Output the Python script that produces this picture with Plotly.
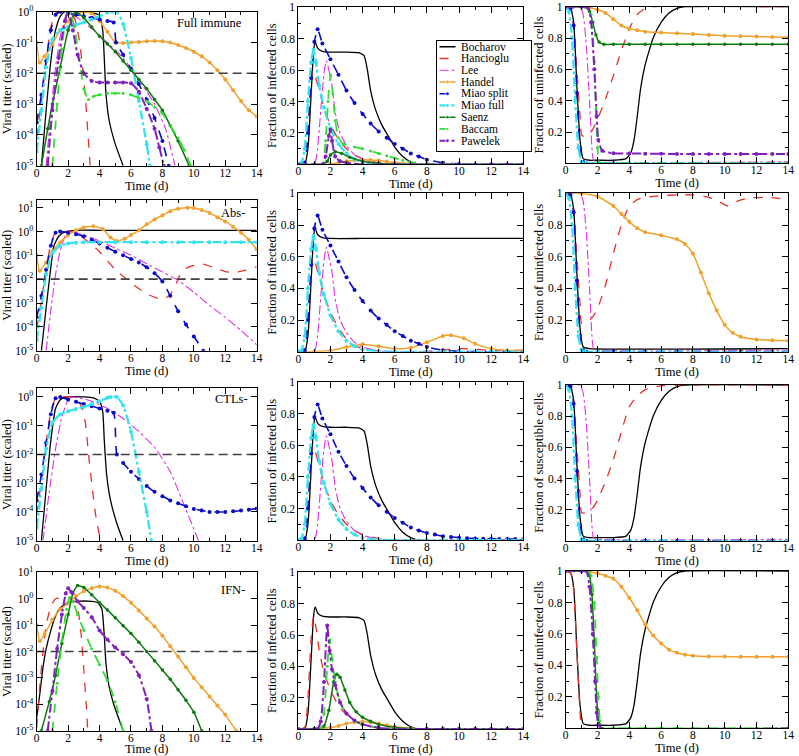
import plotly.graph_objects as go

FONT = "Liberation Serif"
SERIES = ["Bocharov", "Hancioglu", "Lee", "Handel", "Miao split",
          "Miao full", "Saenz", "Baccam", "Pawelek"]
ROW_LABELS = ["Full immune", "Abs-", "CTLs-", "IFN-"]
Y_TITLES = [
    ["Viral titer (scaled)", "Fraction of infected cells", "Fraction of uninfected cells"],
    ["Viral titer (scaled)", "Fraction of infected cells", "Fraction of uninfected cells"],
    ["Viral titer (scaled)", "Fraction of infected cells", "Fraction of susceptible cells"],
    ["Viral titer (scaled)", "Fraction of infected cells", "Fraction of uninfected cells"],
]
TIME_RANGE = [0, 14]
THRESHOLD_LOG10 = -2
LOG_RANGES = [[-5, 0], [-5, 1.32], [-5, 0.3], [-5, 1.0]]
TITER_TICKS_LOG10 = [-5, -4, -3, -2, -1, 0, 1]
FRACTION_TICKS = [0.2, 0.4, 0.6, 0.8, 1]
FRACTION_TICKTEXT = ["0.2", "0.4", "0.6", "0.8", "1"]

# ---------------- data: (time [d], value) ; titer values are log10 ----------------
boch_inf = [(0, 0), (0.4, 0), (0.6, 0.1), (0.8, 0.45), (0.95, 0.72), (1.05, 0.78), (1.2, 0.74),
            (1.5, 0.72), (2, 0.715), (3, 0.715), (3.8, 0.71), (4.1, 0.69), (4.3, 0.6), (4.5, 0.47),
            (4.8, 0.35), (5.2, 0.25), (5.6, 0.18), (6.0, 0.11), (6.5, 0.05), (7, 0.015), (7.5, 0), (14, 0)]
boch_unin = [(0, 1), (0.3, 0.99), (0.5, 0.9), (0.7, 0.5), (0.9, 0.15), (1.1, 0.03), (1.5, 0.02), (2, 0.02),
             (3, 0.02), (3.8, 0.03), (4.1, 0.07), (4.3, 0.15), (4.5, 0.3), (4.7, 0.47), (5.0, 0.63),
             (5.5, 0.8), (6, 0.9), (6.5, 0.96), (7, 0.99), (7.5, 1), (14, 1)]
hanc_inf = [(0, 0), (0.4, 0.01), (0.6, 0.2), (0.8, 0.5), (0.9, 0.6), (1.0, 0.58), (1.3, 0.47), (1.6, 0.36),
            (2, 0.25), (2.5, 0.16), (3, 0.1), (3.5, 0.06), (4, 0.035), (5, 0.01), (6, 0), (14, 0)]
lee_inf = [(0, 0), (1.0, 0), (1.2, 0.1), (1.4, 0.35), (1.6, 0.58), (1.75, 0.66), (1.9, 0.6), (2.1, 0.5),
           (2.3, 0.33), (2.6, 0.2), (3, 0.12), (3.5, 0.06), (4, 0.03), (5, 0.005), (6, 0), (14, 0)]
miaos_inf = [(0, 0), (0.4, 0.01), (0.6, 0.2), (0.8, 0.55), (1.0, 0.78), (1.2, 0.86), (1.5, 0.77), (2, 0.67),
             (2.5, 0.57), (3, 0.47), (3.5, 0.39), (4, 0.32), (4.5, 0.26), (5, 0.21), (5.5, 0.17), (6, 0.13),
             (6.5, 0.1), (7, 0.07), (7.5, 0.05), (8, 0.03), (9, 0.01), (10, 0.003), (11, 0), (12, 0),
             (13, 0), (14, 0)]
miaof_inf = [(0, 0), (0.2, 0.01), (0.4, 0.1), (0.6, 0.4), (0.8, 0.65), (0.95, 0.73), (1.1, 0.65), (1.3, 0.5),
             (1.6, 0.36), (2, 0.23), (2.5, 0.13), (3, 0.07), (3.5, 0.035), (4, 0.015), (5, 0.003), (6, 0),
             (7, 0), (8, 0), (9, 0), (10, 0), (11, 0), (12, 0), (13, 0), (14, 0)]
miaos_unin = [(0, 1), (0.3, 0.99), (0.5, 0.88), (0.7, 0.45), (0.9, 0.1), (1.1, 0.01), (1.3, 0), (2, 0),
              (3, 0), (4, 0), (5, 0), (6, 0), (7, 0), (8, 0), (9, 0), (10, 0), (11, 0), (12, 0), (13, 0), (14, 0)]
miaof_unin = [(0, 1), (0.2, 0.97), (0.4, 0.8), (0.6, 0.4), (0.8, 0.1), (1.0, 0.01), (1.2, 0), (2, 0),
              (4, 0), (6, 0), (8, 0), (10, 0), (12, 0), (14, 0)]
lee_unin = [(0, 1), (0.9, 1), (1.1, 0.95), (1.3, 0.75), (1.5, 0.4), (1.65, 0.1), (1.75, 0.02), (2, 0.01), (14, 0.01)]

full_titer = {
    "Bocharov": [(0.3, -5), (0.6, -3.2), (0.9, -1.6), (1.2, -0.6), (1.5, -0.15), (1.8, 0), (2.5, 0), (3.0, 0),
                 (3.5, -0.03), (4.0, -0.12), (4.2, -0.6), (4.3, -1.5), (4.4, -2.6), (4.6, -3.5), (5.0, -4.3), (5.5, -5)],
    "Hancioglu": [(0, -4.1), (0.3, -2.9), (0.6, -1.6), (0.9, -0.5), (1.2, -0.05), (1.6, 0), (2.0, -0.02),
                  (2.4, -0.2), (2.7, -0.9), (2.9, -1.7), (3.1, -2.8), (3.25, -3.9), (3.4, -5)],
    "Lee": [(0.6, -5), (0.9, -3.3), (1.2, -1.8), (1.5, -0.8), (1.8, -0.2), (2.1, 0), (2.6, -0.2), (3.5, -0.55),
            (4.5, -1.0), (5.5, -1.5), (6.5, -2.2), (7.5, -3.0), (8.2, -3.8), (8.8, -5)],
    "Handel": [(0, -1), (0.2, -1.65), (0.5, -1.45), (1, -1.05), (1.5, -0.6), (2, -0.3), (2.5, -0.1), (3, 0),
               (3.5, -0.05), (4, -0.3), (4.5, -0.65), (5, -1.0), (5.5, -1.02), (6, -1.0), (6.5, -0.98),
               (7, -0.96), (7.5, -0.95), (8, -0.96), (8.5, -1.0), (9, -1.08), (9.5, -1.18), (10, -1.3),
               (10.5, -1.45), (11, -1.65), (11.5, -1.9), (12, -2.2), (12.5, -2.55), (13, -2.9), (13.5, -3.2), (14, -3.4)],
    "Miao split": [(0, -3.6), (0.3, -2.7), (0.6, -1.6), (0.9, -0.6), (1.2, -0.1), (1.5, 0), (2, -0.05),
                   (2.5, -0.1), (3, -0.15), (3.5, -0.2), (4, -0.25), (4.5, -0.3), (4.9, -0.35), (5.05, -1.0),
                   (5.5, -1.4), (6, -1.85), (6.5, -2.35), (7, -2.85), (7.5, -3.45), (8, -4.2), (8.4, -5)],
    "Miao full": [(0, -4.55), (0.3, -3.2), (0.6, -1.8), (1, -0.9), (1.5, -0.6), (2, -0.5), (2.5, -0.42),
                  (3, -0.35), (3.5, -0.25), (4, -0.15), (4.5, -0.03), (4.8, 0), (5.1, 0), (5.5, -0.4),
                  (6, -1.5), (6.5, -2.9), (7, -4.3), (7.2, -5)],
    "Saenz": [(0.3, -5), (0.7, -3.8), (1.0, -3.0), (1.5, -1.8), (2, -0.6), (2.5, 0), (3, -0.2), (3.5, -0.5),
              (4, -0.8), (4.5, -1.05), (5, -1.3), (5.5, -1.6), (6, -1.9), (6.5, -2.2), (7, -2.5), (7.5, -2.85),
              (8, -3.2), (8.5, -3.7), (9, -4.2), (9.7, -5)],
    "Baccam": [(1.0, -5), (1.3, -3), (1.6, -1.2), (1.9, -0.1), (2.1, 0), (2.4, -0.5), (2.7, -1.5), (3.0, -2.5),
               (3.3, -2.85), (3.6, -2.75), (4, -2.7), (4.5, -2.65), (5, -2.65), (5.5, -2.65), (6, -2.7),
               (6.5, -2.8), (7, -2.9), (7.5, -3.1), (8, -3.3), (8.5, -3.7), (9, -4.1), (9.4, -4.5), (9.8, -5)],
    "Pawelek": [(0.7, -5), (1.0, -3.2), (1.4, -1.5), (1.8, -0.3), (2.0, 0), (2.3, -0.6), (2.6, -1.4), (3.0, -2.0),
                (3.5, -2.25), (4, -2.3), (4.5, -2.3), (5, -2.3), (5.5, -2.3), (6, -2.32), (6.5, -2.6),
                (7, -3.15), (7.5, -3.8), (7.8, -4.4), (8.1, -5)],
}
full_inf = {
    "Bocharov": boch_inf, "Hancioglu": hanc_inf, "Lee": lee_inf,
    "Handel": [(0, 0), (1, 0), (2, 0.003), (2.5, 0.01), (3, 0.02), (3.5, 0.027), (4, 0.03), (4.5, 0.028),
               (5, 0.024), (5.5, 0.018), (6, 0.012), (7, 0.005), (8, 0.002), (9, 0), (10, 0), (11, 0),
               (12, 0), (13, 0), (14, 0)],
    "Miao split": miaos_inf, "Miao full": miaof_inf,
    "Saenz": [(0, 0), (1, 0), (1.5, 0), (1.8, 0.02), (2.0, 0.06), (2.3, 0.08), (2.7, 0.07), (3.2, 0.045),
              (4, 0.02), (5, 0.007), (6, 0.002), (7, 0), (8, 0), (9, 0), (10, 0), (11, 0), (12, 0), (13, 0), (14, 0)],
    "Baccam": [(0, 0), (1, 0), (1.5, 0), (1.7, 0.15), (1.85, 0.4), (2.0, 0.57), (2.15, 0.45), (2.3, 0.28),
               (2.5, 0.17), (2.8, 0.13), (3.5, 0.11), (4, 0.1), (4.5, 0.085), (5, 0.07), (5.5, 0.055),
               (6, 0.04), (6.5, 0.027), (7, 0.015), (8, 0.005), (9, 0), (10, 0), (11, 0), (12, 0), (13, 0), (14, 0)],
    "Pawelek": [(0, 0), (1, 0), (1.5, 0), (1.7, 0.05), (1.9, 0.18), (2.0, 0.22), (2.1, 0.15), (2.3, 0.05),
                (2.6, 0.02), (3, 0.01), (4, 0), (5, 0), (6, 0), (7, 0), (8, 0), (9, 0), (10, 0), (11, 0),
                (12, 0), (13, 0), (14, 0)],
}
full_unin = {
    "Bocharov": boch_unin,
    "Hancioglu": [(0, 1), (0.3, 0.99), (0.5, 0.9), (0.7, 0.6), (0.9, 0.3), (1.0, 0.18), (1.2, 0.17), (1.6, 0.2),
                  (2, 0.28), (2.5, 0.41), (3, 0.56), (3.5, 0.72), (4, 0.86), (4.5, 0.95), (5, 0.99), (5.5, 1), (14, 1)],
    "Lee": lee_unin,
    "Handel": [(0, 1), (1, 1), (1.5, 0.995), (2, 0.98), (2.5, 0.96), (3, 0.92), (3.5, 0.88), (4, 0.86),
               (4.5, 0.85), (5, 0.84), (6, 0.835), (7, 0.83), (8, 0.825), (9, 0.82), (10, 0.815),
               (11, 0.812), (12, 0.81), (13, 0.807), (14, 0.805)],
    "Miao split": miaos_unin, "Miao full": miaof_unin,
    "Saenz": [(0, 1), (0.5, 1), (1, 1), (1.2, 1), (1.5, 0.97), (1.7, 0.9), (1.9, 0.82), (2.1, 0.775),
              (2.4, 0.76), (3, 0.76), (4, 0.76), (5, 0.76), (6, 0.76), (7, 0.76), (8, 0.76), (9, 0.76),
              (10, 0.76), (11, 0.76), (12, 0.76), (13, 0.76), (14, 0.76)],
    "Baccam": [(0, 1), (0.5, 1), (1, 1), (1.4, 1), (1.6, 0.95), (1.8, 0.65), (1.9, 0.35), (2.0, 0.1),
               (2.1, 0.01), (2.3, 0), (3, 0), (4, 0), (5, 0), (6, 0), (7, 0), (8, 0), (9, 0), (10, 0),
               (11, 0), (12, 0), (13, 0), (14, 0)],
    "Pawelek": [(0, 1), (1, 1), (1.4, 1), (1.6, 0.9), (1.8, 0.6), (1.95, 0.3), (2.05, 0.15), (2.3, 0.08),
                (3, 0.065), (4, 0.063), (5, 0.062), (6, 0.061), (7, 0.06), (8, 0.06), (9, 0.06), (10, 0.06),
                (11, 0.06), (12, 0.06), (13, 0.06), (14, 0.06)],
}

abs_titer = {
    "Bocharov": [(0.3, -5), (0.6, -3.2), (0.9, -1.5), (1.1, -0.6), (1.4, -0.2), (1.8, -0.02), (2.5, 0.05),
                 (4, 0.05), (6, 0.05), (8, 0.05), (10, 0.05), (12, 0.05), (14, 0.05)],
    "Hancioglu": [(0, -4.1), (0.3, -2.9), (0.6, -1.6), (0.9, -0.5), (1.2, -0.05), (1.6, 0), (2.2, 0),
                  (2.8, -0.2), (3.5, -0.55), (4, -0.85), (5, -1.6), (6, -2.15), (7, -2.62), (8, -2.85),
                  (8.5, -2.65), (8.8, -2.3), (9.1, -1.85), (9.5, -1.55), (10, -1.42), (10.6, -1.37),
                  (11.2, -1.5), (12, -1.68), (12.6, -1.72), (13.3, -1.62), (14, -1.48)],
    "Lee": [(0.6, -5), (0.9, -3.3), (1.2, -1.8), (1.5, -0.8), (1.8, -0.2), (2.1, 0), (3, -0.15), (4, -0.4),
            (5, -0.7), (6, -1.0), (7, -1.35), (8, -1.7), (9, -2.05), (10, -2.55), (11, -3.1), (12, -3.6),
            (13, -4.15), (14, -4.75)],
    "Handel": [(0, -1), (0.2, -1.65), (0.6, -1.3), (1, -0.85), (1.5, -0.45), (2, -0.15), (2.5, 0.05), (3, 0.17),
               (3.6, 0.22), (4.2, 0.1), (4.7, -0.25), (5.1, -0.4), (5.6, -0.3), (6, -0.15), (6.5, 0.05),
               (7, 0.3), (7.5, 0.5), (8, 0.68), (8.5, 0.85), (9, 0.95), (9.6, 1.0), (10, 0.98), (10.5, 0.9),
               (11, 0.78), (11.5, 0.6), (12, 0.42), (12.5, 0.2), (13, -0.05), (13.5, -0.35), (14, -0.75)],
    "Miao split": [(0, -3.6), (0.3, -2.7), (0.6, -1.6), (0.9, -0.6), (1.2, -0.05), (1.5, 0), (2, -0.05),
                   (2.5, -0.12), (3, -0.2), (3.5, -0.35), (4, -0.5), (4.5, -0.68), (5, -0.85), (5.5, -1.0),
                   (6, -1.15), (6.5, -1.3), (7, -1.5), (7.5, -1.75), (8, -2.1), (8.5, -2.7), (9, -3.35),
                   (9.5, -3.9), (10, -4.4), (10.6, -5)],
    "Miao full": [(0, -4.55), (0.3, -3.2), (0.6, -1.8), (1, -0.9), (1.5, -0.6), (2, -0.5), (2.5, -0.47),
                  (3, -0.45), (4, -0.45), (5, -0.45), (6, -0.45), (7, -0.45), (8, -0.45), (9, -0.45),
                  (10, -0.45), (11, -0.45), (12, -0.45), (13, -0.45), (14, -0.45)],
}
abs_inf = {
    "Bocharov": [(0, 0), (0.4, 0), (0.6, 0.1), (0.8, 0.45), (0.95, 0.72), (1.05, 0.78), (1.2, 0.74), (1.5, 0.72),
                 (2, 0.715), (4, 0.715), (6, 0.715), (8, 0.715), (10, 0.715), (12, 0.715), (14, 0.715)],
    "Hancioglu": [(0, 0), (0.4, 0.01), (0.6, 0.2), (0.8, 0.5), (0.9, 0.6), (1.0, 0.58), (1.3, 0.47), (1.6, 0.36),
                  (2, 0.25), (2.5, 0.15), (3, 0.08), (3.5, 0.04), (4, 0.02), (5, 0.005), (6, 0.001), (7, 0.001),
                  (8, 0.003), (8.5, 0.006), (9.5, 0.016), (10.2, 0.02), (11, 0.015), (12, 0.009), (13, 0.008), (14, 0.01)],
    "Lee": lee_inf,
    "Handel": [(0, 0), (1, 0.002), (2, 0.008), (3, 0.03), (4, 0.048), (5, 0.035), (6, 0.02), (7, 0.025),
               (8, 0.06), (9, 0.1), (9.5, 0.105), (10.3, 0.085), (11, 0.05), (12, 0.02), (13, 0.008), (14, 0.005)],
    "Miao split": miaos_inf, "Miao full": miaof_inf,
}
abs_unin = {
    "Bocharov": [(0, 1), (0.3, 0.99), (0.5, 0.9), (0.7, 0.5), (0.9, 0.15), (1.1, 0.03), (1.5, 0.02), (14, 0.02)],
    "Hancioglu": [(0, 1), (0.3, 0.99), (0.5, 0.9), (0.7, 0.6), (0.9, 0.3), (1.0, 0.18), (1.3, 0.18), (1.7, 0.22),
                  (2, 0.27), (2.5, 0.42), (3, 0.62), (3.5, 0.8), (4, 0.92), (4.5, 0.96), (5, 0.975), (6, 0.985),
                  (7, 0.99), (8, 0.99), (9, 0.975), (9.6, 0.95), (10.2, 0.92), (10.8, 0.95), (11.5, 0.97),
                  (12.5, 0.975), (13.3, 0.97), (14, 0.955)],
    "Lee": lee_unin,
    "Handel": [(0, 1), (1, 1), (2, 0.98), (3, 0.92), (3.5, 0.87), (4, 0.82), (4.5, 0.78), (5, 0.755), (6, 0.735),
               (7, 0.71), (7.5, 0.68), (8, 0.62), (8.5, 0.5), (9, 0.37), (9.5, 0.26), (10, 0.17), (10.5, 0.12),
               (11, 0.095), (12, 0.078), (13, 0.072), (14, 0.07)],
    "Miao split": miaos_unin, "Miao full": miaof_unin,
}

ctl_titer = {
    "Bocharov": [(0.3, -5), (0.6, -3.2), (0.9, -1.5), (1.2, -0.4), (1.5, -0.1), (2, 0), (3, 0), (3.6, -0.03),
                 (4.0, -0.15), (4.2, -0.5), (4.3, -1.5), (4.45, -2.7), (4.7, -3.6), (5.1, -4.4), (5.5, -5)],
    "Hancioglu": [(0, -4.1), (0.3, -2.9), (0.6, -1.6), (0.9, -0.5), (1.2, -0.05), (1.6, 0), (2.2, 0), (2.6, -0.1),
                  (2.9, -0.4), (3.1, -0.9), (3.3, -2.0), (3.5, -3.0), (3.75, -4.1), (4.05, -5)],
    "Lee": [(0.4, -5), (0.8, -3.3), (1.2, -1.8), (1.6, -0.7), (2.0, -0.1), (2.3, 0), (2.8, -0.05), (3.5, -0.15),
            (4.5, -0.4), (5.5, -0.75), (6.5, -1.2), (7.5, -1.75), (8.5, -2.6), (9.3, -3.65), (10.3, -5)],
    "Miao split": [(0, -3.6), (0.3, -2.7), (0.6, -1.6), (0.9, -0.6), (1.2, -0.05), (1.5, 0), (2, -0.1),
                   (2.5, -0.17), (3, -0.25), (3.5, -0.32), (4, -0.4), (4.5, -0.48), (4.9, -0.55), (5.1, -2.0),
                   (5.5, -2.3), (6, -2.6), (6.5, -2.85), (7, -3.1), (7.5, -3.3), (8, -3.45), (8.5, -3.6),
                   (9, -3.7), (9.5, -3.8), (10, -3.9), (10.5, -3.95), (11, -4.0), (11.5, -4.0), (12, -4.0),
                   (12.5, -3.98), (13, -3.95), (13.5, -3.92), (14, -3.88)],
    "Miao full": [(0, -4.55), (0.3, -3.2), (0.6, -1.8), (1.0, -0.9), (1.5, -0.6), (2, -0.5), (2.5, -0.42),
                  (3, -0.35), (3.5, -0.25), (4, -0.15), (4.5, -0.03), (4.7, 0), (5.1, 0), (5.5, -0.3),
                  (6, -1.2), (6.5, -2.6), (7, -4.0), (7.3, -5)],
}
ctl_inf = {
    "Bocharov": boch_inf, "Hancioglu": hanc_inf, "Lee": lee_inf,
    "Miao split": [(0, 0), (0.4, 0.01), (0.6, 0.2), (0.8, 0.55), (1.0, 0.78), (1.2, 0.86), (1.5, 0.77), (2, 0.67),
                   (2.5, 0.56), (3, 0.47), (3.5, 0.39), (4, 0.33), (4.5, 0.27), (5, 0.22), (5.5, 0.18), (6, 0.14),
                   (6.5, 0.11), (7, 0.08), (7.5, 0.06), (8, 0.045), (8.5, 0.035), (9, 0.025), (9.5, 0.02),
                   (10, 0.015), (10.5, 0.012), (11, 0.01), (11.5, 0.009), (12, 0.008), (12.5, 0.0075),
                   (13, 0.007), (13.5, 0.0065), (14, 0.006)],
    "Miao full": miaof_inf,
}
ctl_unin = {
    "Bocharov": boch_unin,
    "Hancioglu": [(0, 1), (0.3, 0.99), (0.5, 0.9), (0.7, 0.6), (0.9, 0.3), (1.0, 0.18), (1.3, 0.18), (1.7, 0.21),
                  (2, 0.26), (2.5, 0.38), (3, 0.52), (3.5, 0.7), (4, 0.86), (4.5, 0.93), (5, 0.97), (6, 0.995),
                  (7, 1), (14, 1)],
    "Lee": lee_unin,
    "Miao split": miaos_unin, "Miao full": miaof_unin,
}

ifn_titer = {
    "Bocharov": [(0, -4.5), (0.2, -3.6), (0.4, -2.6), (0.6, -1.9), (0.9, -1.2), (1.2, -0.65), (1.5, -0.35),
                 (2, -0.15), (2.5, -0.1), (3.5, -0.1), (3.9, -0.15), (4.15, -0.4), (4.3, -1.4), (4.4, -2.4),
                 (4.6, -3.3), (4.9, -4.0), (5.5, -5)],
    "Hancioglu": [(0, -4.9), (0.2, -3.3), (0.4, -2), (0.6, -1.0), (0.9, -0.3), (1.2, 0), (2.0, 0.02),
                  (2.4, -0.1), (2.65, -0.5), (2.85, -1.5), (3.0, -2.7), (3.15, -4.0), (3.25, -5)],
    "Handel": [(0, -1), (0.2, -1.6), (0.5, -1.35), (1, -0.8), (1.5, -0.4), (2, -0.15), (2.5, 0.1), (3, 0.28),
               (3.5, 0.4), (4, 0.46), (4.5, 0.42), (5, 0.3), (5.5, 0.1), (6, -0.15), (6.5, -0.45), (7, -0.75),
               (7.5, -1.05), (8, -1.4), (8.5, -1.8), (9, -2.2), (9.5, -2.6), (10, -3.0), (10.5, -3.35),
               (11, -3.7), (11.5, -4.05), (12, -4.4), (12.7, -5)],
    "Saenz": [(0.3, -5), (0.8, -3.9), (1.2, -2.9), (1.6, -1.7), (2.0, -0.6), (2.3, 0.2), (2.6, 0.5), (3.0, 0.42),
              (3.5, 0.15), (4, -0.15), (4.5, -0.43), (5, -0.72), (5.5, -1.02), (6, -1.32), (6.5, -1.65),
              (7, -2.0), (7.5, -2.35), (8, -2.7), (8.5, -3.05), (9, -3.45), (9.5, -3.85), (10, -4.3), (10.5, -5)],
    "Baccam": [(1.0, -5), (1.3, -3.2), (1.6, -1.6), (1.9, -0.4), (2.1, 0.05), (2.3, -0.1), (2.6, -0.6), (3, -1.2),
               (3.5, -1.9), (4, -2.5), (4.5, -3.1), (5, -3.9), (5.5, -5)],
    "Pawelek": [(0.7, -5), (1.0, -3.5), (1.3, -1.9), (1.6, -0.6), (1.85, 0.2), (2.0, 0.4), (2.2, 0.25),
                (2.6, -0.1), (3, -0.35), (3.5, -0.7), (4, -1.2), (4.5, -1.55), (5, -1.85), (5.5, -2.1),
                (6, -2.4), (6.5, -2.9), (7, -3.8), (7.3, -5)],
}
ifn_inf = {
    "Bocharov": boch_inf,
    "Hancioglu": [(0, 0), (0.4, 0.01), (0.6, 0.2), (0.8, 0.58), (0.95, 0.72), (1.1, 0.65), (1.3, 0.5), (1.6, 0.36),
                  (2, 0.25), (2.5, 0.15), (3, 0.09), (3.5, 0.05), (4, 0.028), (5, 0.008), (6, 0.002), (14, 0)],
    "Handel": [(0, 0), (1, 0.002), (2, 0.01), (2.5, 0.02), (3, 0.035), (3.5, 0.044), (4, 0.048), (4.5, 0.044),
               (5, 0.035), (5.5, 0.025), (6, 0.015), (7, 0.006), (8, 0.002), (9, 0), (10, 0), (11, 0), (12, 0),
               (13, 0), (14, 0)],
    "Saenz": [(0, 0), (1, 0), (1.4, 0), (1.6, 0.02), (1.9, 0.12), (2.2, 0.3), (2.4, 0.35), (2.6, 0.33), (2.9, 0.25),
              (3.2, 0.17), (3.6, 0.11), (4, 0.075), (4.5, 0.05), (5, 0.03), (6, 0.01), (7, 0.003), (8, 0),
              (9, 0), (10, 0), (11, 0), (12, 0), (13, 0), (14, 0)],
    "Baccam": [(0, 0), (1, 0), (1.4, 0), (1.6, 0.1), (1.8, 0.4), (1.95, 0.57), (2.1, 0.45), (2.3, 0.3), (2.6, 0.17),
               (3, 0.1), (3.5, 0.055), (4, 0.03), (5, 0.008), (6, 0.002), (7, 0), (8, 0), (9, 0), (10, 0),
               (11, 0), (12, 0), (13, 0), (14, 0)],
    "Pawelek": [(0, 0), (1, 0), (1.2, 0), (1.4, 0.05), (1.6, 0.3), (1.8, 0.66), (1.95, 0.5), (2.1, 0.38),
                (2.3, 0.28), (2.6, 0.17), (3, 0.1), (3.5, 0.055), (4, 0.03), (5, 0.008), (6, 0.002), (7, 0),
                (8, 0), (9, 0), (10, 0), (11, 0), (12, 0), (13, 0), (14, 0)],
}
ifn_unin = {
    "Bocharov": boch_unin,
    "Hancioglu": [(0, 1), (0.3, 0.99), (0.5, 0.88), (0.7, 0.5), (0.9, 0.1), (1.0, 0.01), (1.2, 0), (14, 0)],
    "Handel": [(0, 1), (1, 1), (1.5, 0.995), (2, 0.985), (2.5, 0.97), (3, 0.95), (3.5, 0.9), (4, 0.83),
               (4.5, 0.75), (5, 0.66), (5.5, 0.59), (6, 0.54), (6.5, 0.5), (7, 0.48), (7.5, 0.468), (8, 0.462),
               (9, 0.457), (10, 0.456), (11, 0.455), (12, 0.455), (13, 0.455), (14, 0.455)],
    "Saenz": [(0, 1), (1, 1), (1.3, 1), (1.5, 0.97), (1.65, 0.85), (1.8, 0.55), (1.9, 0.3), (2.0, 0.12),
              (2.1, 0.03), (2.3, 0), (3, 0), (4, 0), (5, 0), (6, 0), (7, 0), (8, 0), (9, 0), (10, 0), (11, 0),
              (12, 0), (13, 0), (14, 0)],
    "Baccam": [(0, 1), (0.5, 1), (1, 1), (1.4, 1), (1.6, 0.97), (1.8, 0.8), (1.95, 0.45), (2.05, 0.2), (2.15, 0.05),
               (2.3, 0), (3, 0), (4, 0), (5, 0), (6, 0), (7, 0), (8, 0), (9, 0), (10, 0), (11, 0), (12, 0),
               (13, 0), (14, 0)],
    "Pawelek": [(0, 1), (1, 1), (1.3, 1), (1.5, 0.9), (1.7, 0.6), (1.85, 0.3), (1.95, 0.1), (2.05, 0.02),
                (2.2, 0), (14, 0)],
}

PANELS = [
    [full_titer, full_inf, full_unin],
    [abs_titer, abs_inf, abs_unin],
    [ctl_titer, ctl_inf, ctl_unin],
    [ifn_titer, ifn_inf, ifn_unin],
]

# ---------------- styles ----------------
STYLE = {
    "Bocharov": dict(color="#000000", dash="solid", width=1.3, msize=0),
    "Hancioglu": dict(color="#e8302a", dash="dash", width=1.3, msize=0),
    "Lee": dict(color="#e032e0", dash="dashdot", width=1.1, msize=0),
    "Handel": dict(color="#f2a22c", dash="solid", width=1.5, msize=4),
    "Miao split": dict(color="#0a0acc", dash="dash", width=1.6, msize=4),
    "Miao full": dict(color="#34e2f0", dash="dashdot", width=2.3, msize=4),
    "Saenz": dict(color="#0c7a0c", dash="solid", width=1.5, msize=3.5),
    "Baccam": dict(color="#34dc34", dash="dash", width=1.8, msize=3),
    "Pawelek": dict(color="#8020c0", dash="dashdot", width=2.0, msize=4),
}

# page coordinates (px) of the target; the page margin is removed after plotting
W, H = 799, 756
COL_PX = [(36.7, 256.7), (298.3, 523.3), (565.7, 788.3)]
ROW_PX = [
    [(11.7, 165.7), (7.3, 164.3), (6.7, 163.3)],
    [(200.0, 350.7), (193.3, 351.7), (193.3, 351.7)],
    [(388.3, 540.7), (382.3, 540.0), (385.0, 540.7)],
    [(572.3, 730.7), (572.3, 729.0), (571.0, 728.3)],
]
LABEL_PX = [(243.5, 23.5), (247.0, 213.3), (250.0, 399.0), (247.0, 590.0)]


def fx(px):
    return min(1.0, max(0.0, px / W))


def fy(py):
    return min(1.0, max(0.0, 1 - py / H))


fig = go.Figure()
layout = dict(
    width=W, height=H, margin=dict(l=0, r=0, t=0, b=0),
    paper_bgcolor="white", plot_bgcolor="white", showlegend=False,
    font=dict(family=FONT, size=12, color="black"),
    template="none",
)
annotations = []

base_axis = dict(showline=True, linecolor="black", linewidth=1, mirror="allticks",
                 ticks="inside", ticklen=6, tickwidth=1, tickcolor="black",
                 showgrid=False, zeroline=False, automargin=False, ticklabeloverflow="allow",
                 tickfont=dict(family=FONT, size=11.5, color="black"))

for r in range(4):
    for c in range(3):
        k = r * 3 + c + 1
        xa = "x" if k == 1 else f"x{k}"
        ya = "y" if k == 1 else f"y{k}"
        data = PANELS[r][c]
        for name in SERIES:
            if name not in data:
                continue
            st = STYLE[name]
            t = [p[0] for p in data[name]]
            if c == 0:
                v = [10 ** p[1] for p in data[name]]
            else:
                v = [p[1] for p in data[name]]
            fig.add_trace(go.Scatter(
                x=t, y=v, name=name, xaxis=xa, yaxis=ya,
                mode="lines+markers" if st["msize"] else "lines",
                line=dict(color=st["color"], dash=st["dash"], width=st["width"],
                          shape="spline", smoothing=0.5),
                marker=dict(size=st["msize"], color=st["color"]),
                showlegend=False, hoverinfo="skip"))
        if c == 0:
            fig.add_trace(go.Scatter(
                x=TIME_RANGE, y=[10 ** THRESHOLD_LOG10] * 2, name="threshold",
                xaxis=xa, yaxis=ya, mode="lines",
                line=dict(color="#404040", dash="9px,5px", width=1.6),
                showlegend=False, hoverinfo="skip"))

        x0, x1 = COL_PX[c]
        top, bot = ROW_PX[r][c]
        xkey = "xaxis" if k == 1 else f"xaxis{k}"
        ykey = "yaxis" if k == 1 else f"yaxis{k}"
        layout[xkey] = dict(base_axis, domain=[fx(x0), fx(x1)], anchor=ya,
                            range=TIME_RANGE, tick0=0, dtick=2, ticklabelstandoff=-4,
                            minor=dict(dtick=1, ticks="inside", ticklen=3, tickcolor="black", showgrid=False),
                            title=dict(text="Time (d)", standoff=0,
                                       font=dict(family=FONT, size=12.5, color="black")))
        ydict = dict(base_axis, domain=[fy(bot), fy(top)], anchor=xa,
                     title=dict(text=Y_TITLES[r][c], standoff=2 if c == 0 else 1,
                                font=dict(family=FONT, size=12.5, color="black")))
        if c == 0:
            lo, hi = LOG_RANGES[r]
            tv = [e for e in TITER_TICKS_LOG10 if lo <= e <= hi + 1e-9]
            ydict.update(type="log", range=[lo, hi], tickmode="array",
                         tickvals=[10 ** e for e in tv],
                         ticktext=[f"10<sup>{e}</sup>" for e in tv])
        else:
            ydict.update(range=[0.0005, 1], tickmode="array", tickvals=FRACTION_TICKS,
                         ticktext=FRACTION_TICKTEXT,
                         minor=dict(tickmode="array", tickvals=[0.1, 0.3, 0.5, 0.7, 0.9],
                                    ticks="inside", ticklen=3, tickcolor="black", showgrid=False))
        layout[ykey] = ydict

    lx, ly = LABEL_PX[r]
    annotations.append(dict(text=ROW_LABELS[r], xref="paper", yref="paper", x=fx(lx), y=fy(ly),
                            xanchor="right", yanchor="middle", showarrow=False,
                            font=dict(family=FONT, size=12.5, color="black")))

# ---------------- legend drawn in an inset axis (row 1, column 2) ----------------
LEG_X = (436.7, 530.7)
LEG_Y = (41.0, 151.0)
n = len(SERIES)
for i, name in enumerate(SERIES):
    st = STYLE[name]
    fig.add_trace(go.Scatter(
        x=[0.03, 0.115, 0.2], y=[i, i, i], xaxis="x13", yaxis="y13",
        mode="lines+markers" if st["msize"] else "lines",
        line=dict(color=st["color"], dash=st["dash"], width=st["width"]),
        marker=dict(size=[0, st["msize"], 0], color=st["color"]),
        showlegend=False, hoverinfo="skip"))
    annotations.append(dict(text=name, xref="x13", yref="y13", x=0.24, y=i, xanchor="left",
                            yanchor="middle", showarrow=False,
                            font=dict(family=FONT, size=11.5, color="black")))
layout["xaxis13"] = dict(domain=[fx(LEG_X[0]), fx(LEG_X[1])], anchor="y13", range=[0, 1],
                         showline=True, mirror=True, linecolor="black", linewidth=1,
                         showticklabels=False, ticks="", showgrid=False, zeroline=False, fixedrange=True)
layout["yaxis13"] = dict(domain=[fy(LEG_Y[1]), fy(LEG_Y[0])], anchor="x13", range=[n - 0.12, -0.49],
                         showline=True, mirror=True, linecolor="black", linewidth=1,
                         showticklabels=False, ticks="", showgrid=False, zeroline=False, fixedrange=True)

layout["annotations"] = annotations
fig.update_layout(**layout)
fig.write_html("out.html", config={"displayModeBar": False},
               post_script="document.body.style.margin='0px';")
